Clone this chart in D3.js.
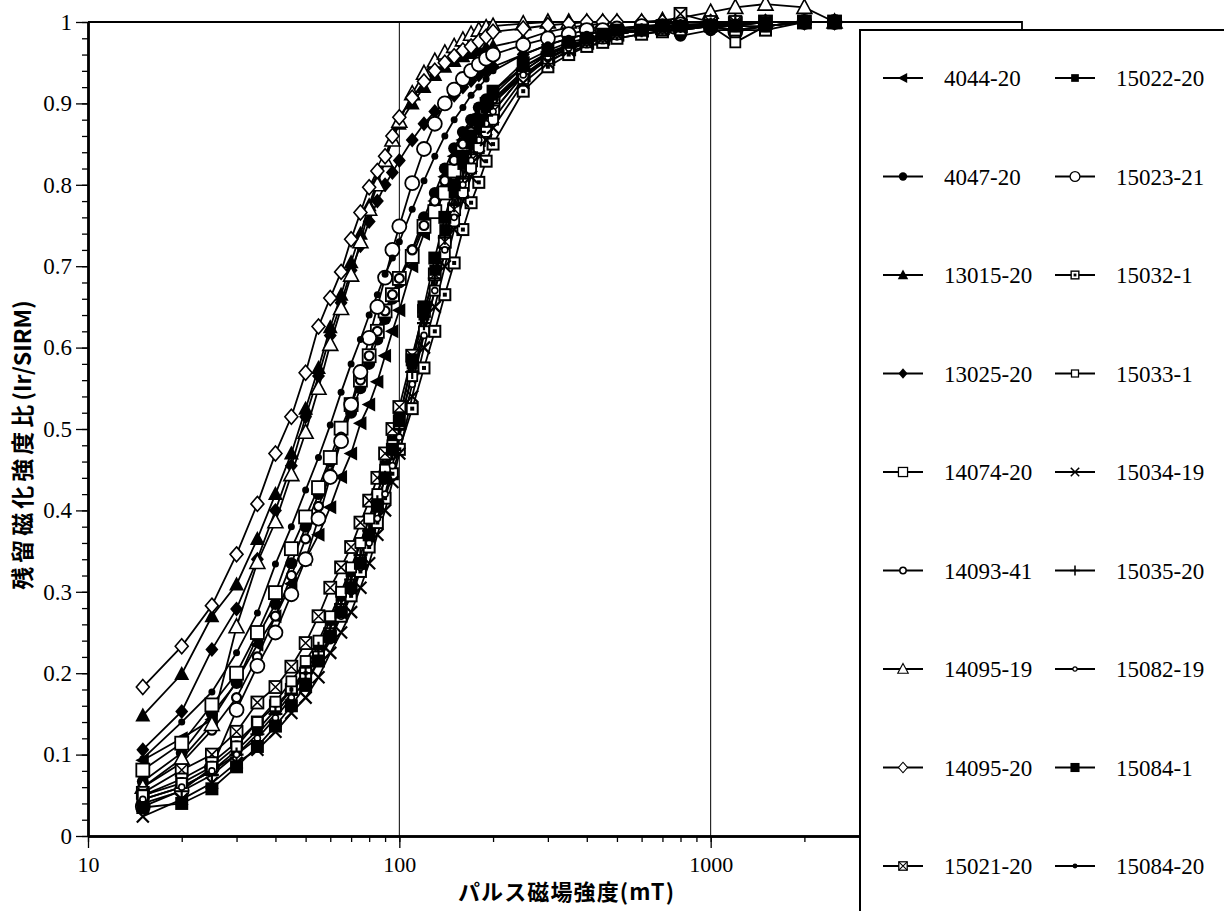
<!DOCTYPE html>
<html>
<head>
<meta charset="utf-8">
<script src="https://cdnjs.cloudflare.com/ajax/libs/d3/7.8.5/d3.min.js"></script>
<style>
    body { margin: 0; background: #fff; }
    svg { display: block; }
    .num { font-family: "Liberation Serif", "Times New Roman", serif; font-size: 22px; fill: #000; }
    .ynum { font-size: 23px; }
    .title { font-family: "Noto Sans CJK JP", "Noto Sans", sans-serif; font-weight: bold; fill: #000; }
</style>
</head>
<body>
<svg class="chart"></svg>
<script>
// pulse field steps (mT)
var fieldSteps = [15, 20, 25, 30, 35, 40, 45, 50, 55, 60, 65, 70, 75, 80, 85, 90, 95, 100,
    110, 120, 130, 140, 150, 160, 170, 180, 190, 200,
    250, 300, 350, 400, 450, 500,
    600, 700, 800,
    1000, 1200, 1500, 2000, 2500];

// Ir/SIRM for each sample, one value per field step
var v4044_20 = [0.093, 0.12, 0.143, 0.19, 0.235, 0.27, 0.31, 0.34, 0.37, 0.404, 0.441, 0.47, 0.507, 0.53, 0.558, 0.59, 0.62, 0.646,
    0.70, 0.74, 0.78, 0.81, 0.835, 0.855, 0.87, 0.885, 0.895, 0.905,
    0.94, 0.96, 0.97, 0.975, 0.98, 0.985,
    0.99, 0.993, 0.995,
    0.997, 0.998, 1.0, 1.0, 1.0];
var v4047_20 = [0.067, 0.102, 0.15, 0.188, 0.245, 0.285, 0.335, 0.38, 0.42, 0.46, 0.49, 0.52, 0.55, 0.58, 0.61, 0.635, 0.66, 0.68,
    0.72, 0.76, 0.79, 0.82, 0.845, 0.865, 0.88, 0.895, 0.905, 0.915,
    0.945, 0.96, 0.97, 0.975, 0.98, 0.985,
    0.99, 0.99, 0.983,
    0.99, 0.99, 0.995, 1.0, 1.0];
var v13015_20 = [0.148, 0.199, 0.27, 0.309, 0.365, 0.42, 0.47, 0.525, 0.575, 0.625, 0.665, 0.705, 0.74, 0.775, 0.805, 0.83, 0.855, 0.875,
    0.9, 0.92, 0.935, 0.945, 0.952, 0.958, 0.962, 0.965, 0.968, 0.97,
    0.978, 0.988, 0.993, 0.996, 0.998, 1.0,
    1.0, 1.0, 1.0,
    1.0, 1.0, 1.0, 1.0, 1.0];
var v13025_20 = [0.106, 0.153, 0.229, 0.279, 0.34, 0.40, 0.455, 0.515, 0.565, 0.615, 0.655, 0.695, 0.725, 0.755, 0.78, 0.80, 0.815, 0.83,
    0.855, 0.875, 0.89, 0.90, 0.91, 0.92, 0.928, 0.935, 0.94, 0.945,
    0.96, 0.972, 0.98, 0.985, 0.99, 0.992,
    0.995, 0.997, 1.0,
    1.0, 1.0, 1.0, 1.0, 1.0];
var v14074_20 = [0.081, 0.114, 0.161, 0.2, 0.25, 0.299, 0.353, 0.392, 0.428, 0.465, 0.501, 0.53, 0.56, 0.59, 0.62, 0.645, 0.665, 0.685,
    0.712, 0.749, 0.767, 0.79, 0.817, 0.84, 0.86, 0.877, 0.89, 0.9,
    0.935, 0.955, 0.967, 0.975, 0.98, 0.985,
    0.99, 0.993, 0.995,
    0.997, 0.998, 1.0, 1.0, 1.0];
var v14093_41 = [0.06, 0.09, 0.13, 0.17, 0.22, 0.27, 0.32, 0.365, 0.405, 0.445, 0.49, 0.53, 0.56, 0.59, 0.62, 0.645, 0.665, 0.685,
    0.72, 0.75, 0.78, 0.805, 0.83, 0.85, 0.865, 0.88, 0.893, 0.905,
    0.935, 0.952, 0.964, 0.97, 0.975, 0.98,
    0.985, 0.99, 0.99,
    0.995, 0.99, 0.995, 1.0, 1.0];
var v14095_19 = [0.06, 0.095, 0.137, 0.257, 0.336, 0.386, 0.444, 0.496, 0.55, 0.604, 0.648, 0.689, 0.73, 0.77, 0.80, 0.83, 0.855, 0.878,
    0.912, 0.937, 0.952, 0.962, 0.97, 0.978, 0.985, 0.99, 0.993, 0.995,
    0.998, 1.0, 1.0, 1.0, 1.0, 1.0,
    1.0, 1.002, 1.005,
    1.012, 1.018, 1.022, 1.018, 1.0];
var v14095_20 = [0.183, 0.233, 0.283, 0.346, 0.408, 0.47, 0.515, 0.569, 0.626, 0.661, 0.693, 0.733, 0.766, 0.797, 0.817, 0.835, 0.86, 0.883,
    0.907, 0.927, 0.94, 0.95, 0.958, 0.965, 0.97, 0.976, 0.982, 0.988,
    0.992, 0.996, 0.998, 1.0, 1.0, 1.0,
    1.0, 1.0, 1.0,
    1.0, 1.0, 1.0, 1.0, 1.0];
var v15021_20 = [0.053, 0.081, 0.1, 0.128, 0.164, 0.183, 0.208, 0.237, 0.27, 0.305, 0.33, 0.355, 0.385, 0.412, 0.44, 0.47, 0.50, 0.527,
    0.59, 0.645, 0.69, 0.73, 0.77, 0.80, 0.83, 0.855, 0.875, 0.89,
    0.935, 0.955, 0.968, 0.975, 0.98, 0.985,
    0.99, 0.995, 1.01,
    1.0, 1.0, 1.0, 1.0, 1.0];
var v15022_20 = [0.045, 0.06, 0.08, 0.105, 0.13, 0.155, 0.18, 0.205, 0.235, 0.265, 0.295, 0.325, 0.36, 0.39, 0.42, 0.455, 0.485, 0.515,
    0.58, 0.64, 0.695, 0.745, 0.79, 0.825, 0.85, 0.875, 0.895, 0.91,
    0.945, 0.962, 0.972, 0.978, 0.983, 0.987,
    0.99, 0.993, 0.995,
    0.997, 0.995, 1.0, 1.0, 1.0];
var v15023_21 = [0.036, 0.056, 0.084, 0.155, 0.209, 0.25, 0.297, 0.34, 0.39, 0.441, 0.485, 0.53, 0.57, 0.612, 0.65, 0.686, 0.72, 0.749,
    0.802, 0.844, 0.875, 0.9, 0.917, 0.93, 0.94, 0.948, 0.955, 0.96,
    0.972, 0.98, 0.985, 0.99, 0.99, 0.992,
    0.995, 0.995, 0.997,
    0.995, 0.988, 0.995, 1.0, 1.0];
var v15032_1 = [0.05, 0.07, 0.09, 0.115, 0.14, 0.16, 0.18, 0.2, 0.22, 0.245, 0.27, 0.295, 0.325, 0.355, 0.385, 0.415, 0.445, 0.475,
    0.525, 0.575, 0.62, 0.665, 0.704, 0.745, 0.778, 0.803, 0.829, 0.85,
    0.915, 0.945, 0.96, 0.97, 0.975, 0.98,
    0.985, 0.988, 0.99,
    0.995, 0.99, 0.99, 1.0, 1.0];
var v15033_1 = [0.05, 0.065, 0.085, 0.11, 0.14, 0.165, 0.19, 0.215, 0.24, 0.27, 0.3, 0.33, 0.36, 0.39, 0.42, 0.45, 0.48, 0.505,
    0.565, 0.62, 0.67, 0.715, 0.755, 0.79, 0.82, 0.845, 0.865, 0.88,
    0.93, 0.955, 0.968, 0.975, 0.98, 0.985,
    0.99, 0.99, 0.99,
    0.995, 0.975, 0.995, 1.0, 1.0];
var v15034_19 = [0.024, 0.045, 0.065, 0.09, 0.106, 0.128, 0.151, 0.17, 0.195, 0.225, 0.25, 0.275, 0.305, 0.335, 0.37, 0.40, 0.435, 0.47,
    0.54, 0.60, 0.65, 0.70, 0.745, 0.78, 0.81, 0.835, 0.855, 0.87,
    0.925, 0.95, 0.965, 0.975, 0.98, 0.985,
    0.99, 0.99, 0.993,
    0.995, 0.997, 1.0, 1.0, 1.0];
var v15035_20 = [0.04, 0.055, 0.075, 0.1, 0.125, 0.15, 0.175, 0.2, 0.23, 0.255, 0.285, 0.315, 0.345, 0.375, 0.41, 0.44, 0.47, 0.5,
    0.57, 0.63, 0.685, 0.735, 0.775, 0.81, 0.84, 0.865, 0.885, 0.9,
    0.94, 0.96, 0.97, 0.977, 0.982, 0.986,
    0.99, 0.993, 0.995,
    0.997, 0.998, 1.0, 1.0, 1.0];
var v15082_19 = [0.045, 0.06, 0.08, 0.1, 0.12, 0.145, 0.17, 0.19, 0.215, 0.24, 0.27, 0.3, 0.33, 0.36, 0.39, 0.42, 0.455, 0.49,
    0.555, 0.615, 0.67, 0.72, 0.76, 0.8, 0.83, 0.855, 0.875, 0.89,
    0.935, 0.957, 0.968, 0.975, 0.98, 0.985,
    0.99, 0.99, 0.993,
    0.995, 0.995, 1.0, 1.0, 1.0];
var v15084_1 = [0.035, 0.04, 0.058, 0.085, 0.11, 0.135, 0.16, 0.185, 0.215, 0.245, 0.275, 0.305, 0.335, 0.37, 0.405, 0.44, 0.475, 0.51,
    0.585, 0.65, 0.71, 0.76, 0.8, 0.835, 0.86, 0.88, 0.9, 0.915,
    0.95, 0.965, 0.975, 0.98, 0.985, 0.99,
    0.99, 0.995, 0.995,
    0.995, 0.995, 0.995, 1.0, 1.0];
var v15084_20 = [0.095, 0.14, 0.177, 0.225, 0.274, 0.334, 0.38, 0.425, 0.465, 0.505, 0.545, 0.58, 0.61, 0.64, 0.665, 0.69, 0.71, 0.73,
    0.77, 0.805, 0.835, 0.86, 0.88, 0.895, 0.91, 0.92, 0.93, 0.94,
    0.96, 0.972, 0.98, 0.985, 0.988, 0.99,
    0.993, 0.995, 0.997,
    0.998, 1.0, 1.0, 1.0, 1.0];

var sampleNames = ['4044-20', '4047-20', '13015-20', '13025-20', '14074-20', '14093-41', '14095-19', '14095-20', '15021-20',
    '15022-20', '15023-21', '15032-1', '15033-1', '15034-19', '15035-20', '15082-19', '15084-1', '15084-20'];
var sampleValues = [v4044_20, v4047_20, v13015_20, v13025_20, v14074_20, v14093_41, v14095_19, v14095_20, v15021_20,
    v15022_20, v15023_21, v15032_1, v15033_1, v15034_19, v15035_20, v15082_19, v15084_1, v15084_20];

var yTickLabels = ['0', '0.1', '0.2', '0.3', '0.4', '0.5', '0.6', '0.7', '0.8', '0.9', '1'];
var xTickLabels = ['10', '100', '1000'];

// marker style per sample (same order as sampleNames)
var markerTypes = ['triLeft', 'circleFill', 'triUpFill', 'diamondFill', 'squareOpen', 'circleOpenSmall', 'triUpOpen', 'diamondOpen', 'squareX',
    'squareFill', 'circleOpen', 'squareDot', 'squareOpenSmall', 'cross', 'plus', 'circleTiny', 'squareBig', 'dot'];

var config = {
    width: 1224,
    height: 911,
    left: 88,
    right: 1022,
    top: 22,
    bottom: 836
};

var svg = d3.select('.chart')
    .attr('width', config.width)
    .attr('height', config.height);

svg.append('rect')
    .attr('width', config.width)
    .attr('height', config.height)
    .attr('fill', '#fff');

var x = d3.scaleLog().domain([10, 10000]).range([config.left, config.right]);
var y = d3.scaleLinear().domain([0, 1]).range([config.bottom, config.top]);

function drawMarker(g, type) {
    var black = '#000', white = '#fff';
    switch (type) {
        case 'triLeft':
            g.append('path').attr('d', 'M-7.5,0L6,-7L6,7Z').attr('fill', black);
            break;
        case 'circleFill':
            g.append('circle').attr('r', 6).attr('fill', black);
            break;
        case 'triUpFill':
            g.append('path').attr('d', 'M0,-8L7.5,6L-7.5,6Z').attr('fill', black);
            break;
        case 'diamondFill':
            g.append('path').attr('d', 'M0,-7.5L6.5,0L0,7.5L-6.5,0Z').attr('fill', black);
            break;
        case 'squareOpen':
            g.append('rect').attr('x', -6.5).attr('y', -6.5).attr('width', 13).attr('height', 13)
                .attr('fill', white).attr('stroke', black).attr('stroke-width', 1.8);
            break;
        case 'circleOpenSmall':
            g.append('circle').attr('r', 4.5).attr('fill', white).attr('stroke', black).attr('stroke-width', 2.2);
            break;
        case 'triUpOpen':
            g.append('path').attr('d', 'M0,-8L7.5,6L-7.5,6Z')
                .attr('fill', white).attr('stroke', black).attr('stroke-width', 1.6);
            break;
        case 'diamondOpen':
            g.append('path').attr('d', 'M0,-7.5L6.5,0L0,7.5L-6.5,0Z')
                .attr('fill', white).attr('stroke', black).attr('stroke-width', 1.6);
            break;
        case 'squareX':
            g.append('rect').attr('x', -6).attr('y', -6).attr('width', 12).attr('height', 12)
                .attr('fill', white).attr('stroke', black).attr('stroke-width', 1.8);
            g.append('path').attr('d', 'M-6,-6L6,6M6,-6L-6,6').attr('stroke', black).attr('stroke-width', 1.5);
            break;
        case 'squareFill':
            g.append('rect').attr('x', -5.5).attr('y', -5.5).attr('width', 11).attr('height', 11).attr('fill', black);
            break;
        case 'circleOpen':
            g.append('circle').attr('r', 7).attr('fill', white).attr('stroke', black).attr('stroke-width', 1.8);
            break;
        case 'squareDot':
            g.append('rect').attr('x', -5.5).attr('y', -5.5).attr('width', 11).attr('height', 11)
                .attr('fill', white).attr('stroke', black).attr('stroke-width', 2);
            g.append('rect').attr('x', -2).attr('y', -2).attr('width', 4).attr('height', 4).attr('fill', black);
            break;
        case 'squareOpenSmall':
            g.append('rect').attr('x', -5).attr('y', -5).attr('width', 10).attr('height', 10)
                .attr('fill', white).attr('stroke', black).attr('stroke-width', 1.8);
            break;
        case 'cross':
            g.append('path').attr('d', 'M-6,-6L6,6M6,-6L-6,6').attr('stroke', black).attr('stroke-width', 2.2);
            break;
        case 'plus':
            g.append('path').attr('d', 'M-7,0H7M0,-7V7').attr('stroke', black).attr('stroke-width', 2.2);
            break;
        case 'circleTiny':
            g.append('circle').attr('r', 3).attr('fill', white).attr('stroke', black).attr('stroke-width', 1.6);
            break;
        case 'squareBig':
            g.append('rect').attr('x', -6.5).attr('y', -6.5).attr('width', 13).attr('height', 13).attr('fill', black);
            break;
        case 'dot':
            g.append('circle').attr('r', 3.5).attr('fill', black);
            break;
    }
}

// gridlines at decades
svg.append('g').selectAll('line')
    .data([100, 1000])
    .enter().append('line')
    .attr('x1', function(d) { return x(d); })
    .attr('x2', function(d) { return x(d); })
    .attr('y1', config.top)
    .attr('y2', config.bottom)
    .attr('stroke', '#000')
    .attr('stroke-width', 1);

// frame top and right
svg.append('path')
    .attr('d', 'M' + config.left + ',' + config.top + 'H' + config.right + 'V' + config.bottom)
    .attr('fill', 'none')
    .attr('stroke', '#000')
    .attr('stroke-width', 1.8);

// axes
var yMinor = svg.append('g')
    .attr('transform', 'translate(' + config.left + ',0)')
    .call(d3.axisLeft(y).tickValues(d3.range(0, 1.001, 0.02)).tickSize(6).tickSizeOuter(0).tickFormat(''));
var yAxis = svg.append('g')
    .attr('transform', 'translate(' + config.left + ',0)')
    .call(d3.axisLeft(y).tickValues(yTickLabels.map(Number)).tickSize(12).tickSizeOuter(0).tickPadding(4)
        .tickFormat(function(d, i) { return yTickLabels[i]; }));
var xMinor = svg.append('g')
    .attr('transform', 'translate(0,' + config.bottom + ')')
    .call(d3.axisBottom(x).tickValues(x.ticks()).tickSize(6).tickSizeOuter(0).tickFormat(''));
var xAxis = svg.append('g')
    .attr('transform', 'translate(0,' + config.bottom + ')')
    .call(d3.axisBottom(x).tickValues(xTickLabels.map(Number)).tickSize(12).tickSizeOuter(0).tickPadding(8)
        .tickFormat(function(d, i) { return xTickLabels[i]; }));

[yMinor, yAxis, xMinor, xAxis].forEach(function(a) {
    a.selectAll('.tick line').attr('stroke', '#000').attr('stroke-width', 1.3);
    a.select('.domain').attr('stroke', '#000').attr('stroke-width', 2.4);
    a.selectAll('text').attr('class', 'num').attr('font-size', null).attr('font-family', null);
});
yAxis.selectAll('text').attr('class', 'num ynum');

// data
var line = d3.line()
    .x(function(d) { return x(d[0]); })
    .y(function(d) { return y(d[1]); });

var plotData = sampleValues.map(function(vals, i) {
    return {
        name: sampleNames[i],
        marker: markerTypes[i],
        points: vals.map(function(v, j) { return [fieldSteps[j], v]; })
    };
});

var plot = svg.append('g');
plot.selectAll('path.series')
    .data(plotData)
    .enter().append('path')
    .attr('class', 'series')
    .attr('d', function(d) { return line(d.points); })
    .attr('fill', 'none')
    .attr('stroke', '#000')
    .attr('stroke-width', 1.8);

plotData.forEach(function(s) {
    s.points.forEach(function(p) {
        var g = plot.append('g').attr('transform', 'translate(' + x(p[0]) + ',' + y(p[1]) + ')');
        drawMarker(g, s.marker);
    });
});

// titles
svg.append('text')
    .attr('class', 'title')
    .attr('x', 566)
    .attr('y', 900)
    .attr('text-anchor', 'middle')
    .attr('font-size', 22)
    .attr('textLength', 216)
    .attr('lengthAdjust', 'spacing')
    .text('パルス磁場強度(mT)');

var yTitle = svg.append('text')
    .attr('class', 'title')
    .attr('transform', 'translate(31,445) rotate(-90)')
    .attr('text-anchor', 'middle')
    .attr('font-size', 23);
yTitle.append('tspan')
    .attr('letter-spacing', 4)
    .text('残留磁化強度比');
yTitle.append('tspan')
    .text('(Ir/SIRM)');

// legend
var legend = svg.append('g');
legend.append('rect')
    .attr('x', 860)
    .attr('y', 30)
    .attr('width', 400)
    .attr('height', 950)
    .attr('fill', '#fff')
    .attr('stroke', '#000')
    .attr('stroke-width', 2);

var rowY = d3.scaleLinear().domain([0, 8]).range([78, 866]);
var items = legend.selectAll('g.item')
    .data(plotData)
    .enter().append('g')
    .attr('class', 'item')
    .attr('transform', function(d, i) {
        var col = i < 9 ? 0 : 1;
        return 'translate(' + (col === 0 ? 903 : 1075) + ',' + rowY(i % 9) + ')';
    });

items.append('line')
    .attr('x1', -20).attr('x2', 20)
    .attr('stroke', '#000').attr('stroke-width', 2.2);

items.each(function(d) {
    var g = d3.select(this).append('g').attr('transform', 'scale(0.7)');
    drawMarker(g, d.marker);
});

items.append('text')
    .attr('class', 'num')
    .attr('x', 41)
    .attr('y', 8)
    .attr('font-size', null)
    .style('font-size', '23px')
    .text(function(d) { return d.name; });
</script>
</body>
</html>
